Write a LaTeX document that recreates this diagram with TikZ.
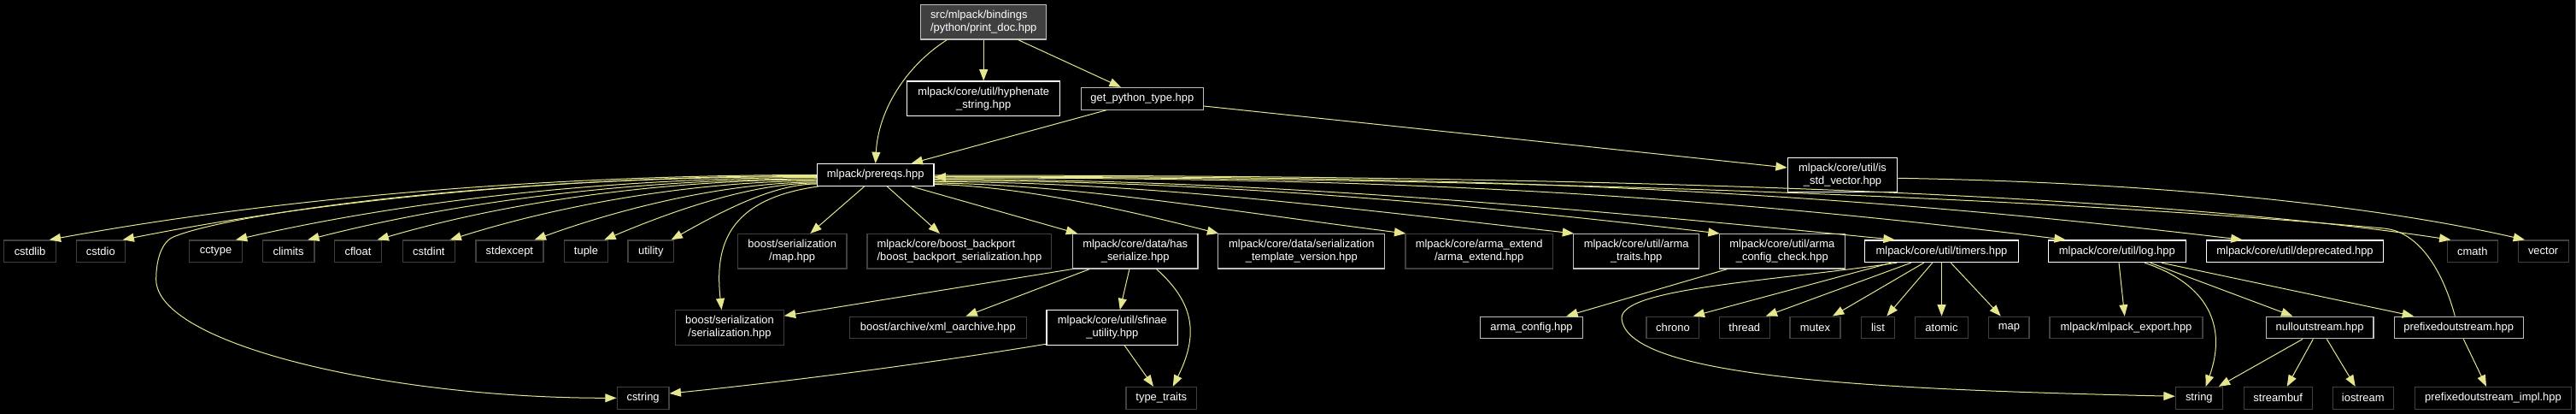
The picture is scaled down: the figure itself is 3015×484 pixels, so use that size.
\documentclass[tikz,border=0pt]{standalone}
\usepackage{fontspec}
\setmainfont{Liberation Sans}
\usetikzlibrary{arrows.meta,calc}
\definecolor{edgecol}{RGB}{230,230,140}
\definecolor{lgray}{RGB}{191,191,191}
\definecolor{dgray}{RGB}{64,64,64}
\definecolor{rootfill}{RGB}{64,64,64}
\definecolor{framegray}{RGB}{90,90,90}
\begin{document}
\begin{tikzpicture}[x=0.75pt,y=-0.75pt,
  nd/.style={draw, line width=0.9pt, fill=black, text=white, inner sep=0pt, align=center,
    font=\fontsize{9.7}{11.25}\selectfont},
  wb/.style={nd, draw=white},
  lb/.style={nd, draw=lgray},
  db/.style={nd, draw=dgray},
  sgl/.style={minimum width=#1*0.75pt, minimum height=25.7*0.75pt},
  dbl/.style={minimum width=#1*0.75pt, minimum height=40.4*0.75pt},
  conn/.style={draw=edgecol, line width=0.75pt, -{Triangle[length=10pt,width=7.5pt]}},
]
\useasboundingbox (0,0) rectangle (3015,484);
\fill[black] (0,0) rectangle (3015,484);
\draw[framegray, line width=0.6pt] (3014.4,0) -- (3014.4,484);

% row 1-3
\node[lb, fill=rootfill, dbl=147, align=left] (root) at (1151.2,25.8) {src/mlpack/bindings\\/python/print\_doc.hpp};
\node[wb, dbl=179] (hyph) at (1151.2,115.2) {mlpack/core/util/hyphenate\\\_string.hpp};
\node[lb, sgl=143] (gpt) at (1336.8,115.3) {get\_python\_type.hpp};
\node[wb, sgl=136.7] (prereqs) at (1024.7,204.5) {mlpack/prereqs.hpp};
\node[wb, dbl=128.4] (isvec) at (2156.5,204.5) {mlpack/core/util/is\\\_std\_vector.hpp};

% row 4
\node[db, sgl=60.6] (cstdlib) at (35.1,293.8) {cstdlib};
\node[db, sgl=57.2] (cstdio) at (117.8,293.8) {cstdio};
\node[db, sgl=62] (cctype) at (252.5,293.8) {cctype};
\node[db, sgl=60.6] (climits) at (337.6,293.8) {climits};
\node[db, sgl=54.8] (cfloat) at (419,293.8) {cfloat};
\node[db, sgl=61.6] (cstdint) at (501.9,293.8) {cstdint};
\node[db, sgl=79] (stdexcept) at (596.4,293.8) {stdexcept};
\node[db, sgl=50.9] (tuple) at (686,293.8) {tuple};
\node[db, sgl=53.7] (utility) at (761.8,293.8) {utility};
\node[db, dbl=127.7] (bsmap) at (927.2,293.8) {boost/serialization\\/map.hpp};
\node[db, dbl=215.8, align=left] (backport) at (1122.9,293.8) {mlpack/core/boost\_backport\\/boost\_backport\_serialization.hpp};
\node[lb, dbl=146.4] (hasser) at (1328.7,293.8) {mlpack/core/data/has\\\_serialize.hpp};
\node[lb, dbl=195] (tmplver) at (1523.3,293.8) {mlpack/core/data/serialization\\\_template\_version.hpp};
\node[db, dbl=172.6] (armaext) at (1731.2,293.8) {mlpack/core/arma\_extend\\/arma\_extend.hpp};
\node[lb, dbl=147] (armatraits) at (1915.2,293.8) {mlpack/core/util/arma\\\_traits.hpp};
\node[lb, dbl=147] (armacc) at (2085.8,293.8) {mlpack/core/util/arma\\\_config\_check.hpp};
\node[wb, sgl=179.6] (timers) at (2272.5,293.8) {mlpack/core/util/timers.hpp};
\node[wb, sgl=161] (log) at (2477.8,293.8) {mlpack/core/util/log.hpp};
\node[wb, sgl=207.3] (deprecated) at (2686,293.8) {mlpack/core/util/deprecated.hpp};
\node[db, sgl=59] (cmath) at (2893.8,293.8) {cmath};
\node[db, sgl=59] (vector) at (2976.6,293.8) {vector};

% row 5
\node[db, dbl=126.5] (sersz) at (854,383) {boost/serialization\\/serialization.hpp};
\node[db, sgl=207] (xmloa) at (1097.8,383) {boost/archive/xml\_oarchive.hpp};
\node[wb, dbl=153.7] (sfinae) at (1301.9,383) {mlpack/core/util/sfinae\\\_utility.hpp};
\node[lb, sgl=119.6] (armacfg) at (1792.5,383) {arma\_config.hpp};
\node[db, sgl=61.7] (chrono) at (1957.9,383) {chrono};
\node[db, sgl=59] (thread) at (2041.8,383) {thread};
\node[db, sgl=59] (mutex) at (2124.5,383) {mutex};
\node[db, sgl=39.4] (list) at (2198,383) {list};
\node[db, sgl=62.4] (atomic) at (2272.5,383) {atomic};
\node[db, sgl=47.3] (map) at (2351.4,383) {map};
\node[db, sgl=179] (export) at (2488.5,383) {mlpack/mlpack\_export.hpp};
\node[lb, sgl=125.6] (nullos) at (2715.1,383) {nulloutstream.hpp};
\node[lb, sgl=150.8] (prefos) at (2877.7,383) {prefixedoutstream.hpp};

% row 6
\node[db, sgl=60.8] (cstring) at (752.6,465.3) {cstring};
\node[db, sgl=82.5] (typetraits) at (1359.3,465.3) {type\_traits};
\node[db, sgl=55] (string) at (2573.8,465.3) {string};
\node[db, sgl=80] (streambuf) at (2666.2,465.3) {streambuf};
\node[db, sgl=71.2] (iostream) at (2765.7,465.3) {iostream};
\node[db, sgl=182.5] (impl) at (2918,465.3) {prefixedoutstream\_impl.hpp};

% waypoints
\coordinate (cstrbend) at (203.6,276.7);
\coordinate (cstrturn) at (182.7,326.7);
\coordinate (pfturn) at (2790,267);
\coordinate (tmturn) at (1898,372);

% root edges
\draw[conn] ($(root.south)+(-42.9,0)$) .. controls +(-50,32) and +(3,-60) .. (prereqs.north);
\draw[conn] (root.south) -- (hyph.north);
\draw[conn] ($(root.south)+(40.5,0)$) -- ($(gpt.north)+(-25,0)$);
\draw[conn] ($(gpt.south)+(-41.8,0)$) -- ($(prereqs.north)+(42,0)$);
\draw[conn] ($(gpt.east)+(0,8.7)$) -- ($(isvec.west)+(0,-8.5)$);

% prereqs left fan
\draw[conn] (prereqs.west) .. controls +(-270,0) and +(300,-55) .. ($(cstdlib.north east)+(-8.2,0)$);
\draw[conn] ($(prereqs.west)+(0,1)$) .. controls +(-244,0) and +(271,-54) .. ($(cstdio.north east)+(-3.4,0)$);
\draw[conn] ($(prereqs.west)+(0,3)$) .. controls +(-204,0) and +(227,-52) .. ($(cctype.north east)+(-8.2,0)$);
\draw[conn] ($(prereqs.west)+(0,4.5)$) .. controls +(-179,0) and +(199,-51) .. ($(climits.north east)+(-8.3,0)$);
\draw[conn] ($(prereqs.west)+(0,5.5)$) .. controls +(-155,0) and +(172,-50) .. ($(cfloat.north east)+(-5.4,0)$);
\draw[conn] ($(prereqs.west)+(0,7)$) .. controls +(-129,0) and +(143,-45) .. ($(cstdint.north east)+(-6.7,0)$);
\draw[conn] ($(prereqs.west)+(0,8.5)$) .. controls +(-99,0) and +(110,-40) .. ($(stdexcept.north east)+(-10.9,0)$);
\draw[conn] ($(prereqs.west)+(0,9.5)$) .. controls +(-75,0) and +(83,-35) .. ($(tuple.north east)+(-4.8,0)$);
\draw[conn] ($(prereqs.west)+(0,10.5)$) .. controls +(-51,0) and +(57,-32) .. ($(utility.north east)+(-3.7,0)$);
\draw[conn] ($(prereqs.west)+(0,2)$) .. controls +(-400,0) and +(60,-25) .. (cstrbend)
  .. controls +(-15,6) and +(0,-22) .. (cstrturn)
  .. controls +(0,75) and +(-270,0) .. (cstring.west);
\draw[conn] ($(prereqs.south west)+(2,0)$) .. controls +(-108,15) and +(-8,-73) .. ($(sersz.north)+(-9.5,0)$);

% prereqs downward
\draw[conn] ($(prereqs.south)+(-13,0)$) -- ($(bsmap.north)+(21.1,0)$);
\draw[conn] ($(prereqs.south)+(13.6,0)$) -- ($(backport.north)+(-22.9,0)$);
\draw[conn] ($(prereqs.south)+(42,0)$) -- ($(hasser.north west)+(6.2,0)$);

% prereqs right fan
\draw[conn] ($(prereqs.east)+(0,11)$) .. controls +(100,2) and +(-110,-28) .. ($(tmplver.north west)+(1,0)$);
\draw[conn] ($(prereqs.east)+(0,9.5)$) .. controls +(166,2) and +(-220,-28) .. ($(armaext.north west)+(1,0)$);
\draw[conn] ($(prereqs.east)+(0,8)$) .. controls +(225,0) and +(-300,-34) .. ($(armatraits.north west)+(1,0)$);
\draw[conn] ($(prereqs.east)+(0,6.5)$) .. controls +(276,0) and +(-368,-43) .. ($(armacc.north west)+(1,0)$);
\draw[conn] ($(prereqs.east)+(0,5)$) .. controls +(337,0) and +(-450,-45) .. ($(timers.north west)+(35.6,0)$);
\draw[conn] ($(prereqs.east)+(0,3.5)$) .. controls +(397,0) and +(-530,-66) .. ($(log.north west)+(21,0)$);
\draw[conn] ($(prereqs.east)+(0,2)$) .. controls +(460,0) and +(-613,-73) .. ($(deprecated.north west)+(42.7,0)$);
\draw[conn] ($(prereqs.east)+(0,0.5)$) .. controls +(533,0) and +(-444,-66.6) .. ($(cmath.north west)+(4.7,0)$);

% prefixedoutstream back to prereqs
\draw[conn] ($(prefos.north)+(-4.4,0)$) .. controls +(-12,-45) and +(45,4) .. (pfturn)
  .. controls +(-500,-45) and +(500,0) .. ($(prereqs.east)+(0,2.5)$);

% is_std_vector
\draw[conn] ($(isvec.east)+(0,3.8)$) .. controls +(300,5) and +(-180,-41) .. ($(vector.north)+(-21.6,0)$);

% has_serialize
\draw[conn] (hasser.south west) -- ($(sersz.north east)+(0,7)$);
\draw[conn] ($(hasser.south west)+(20.4,0)$) -- ($(xmloa.north)+(32.7,0)$);
\draw[conn] ($(hasser.south)+(-6.8,0)$) -- ($(sfinae.north)+(8.9,0)$);
\draw[conn] ($(hasser.south)+(24.8,0)$) .. controls +(45,40) and +(30,-60) .. ($(typetraits.north)+(13.5,0)$);

% sfinae
\draw[conn] ($(sfinae.south)+(14.2,0)$) -- ($(typetraits.north)+(-9.3,0)$);
\draw[conn] ($(sfinae.south west)+(0,-1.6)$) .. controls +(-120,20) and +(150,-15) .. ($(cstring.east)+(0,-5.3)$);

% arma_config_check
\draw[conn] ($(armacc.south)+(-64.1,0)$) -- ($(armacfg.north)+(40.8,0)$);

% timers
\draw[conn] ($(timers.south)+(-59.2,0)$) -- ($(chrono.north)+(23.8,0)$);
\draw[conn] ($(timers.south)+(-35.8,0)$) -- ($(thread.north)+(24.9,0)$);
\draw[conn] ($(timers.south)+(-20.8,0)$) -- ($(mutex.north)+(20.5,0)$);
\draw[conn] ($(timers.south)+(-10.8,0)$) -- ($(list.north)+(10.3,0)$);
\draw[conn] (timers.south) -- (atomic.north);
\draw[conn] ($(timers.south)+(10.8,0)$) -- ($(map.north)+(-9.7,0)$);
\draw[conn] ($(timers.south)+(-52.5,0)$) .. controls +(-150,22) and +(0,-35) .. (tmturn)
  .. controls +(5,70) and +(-350,-8) .. ($(string.west)+(0,-2)$);

% log
\draw[conn] ($(log.south)+(2.2,0)$) -- ($(export.north)+(-1.8,0)$);
\draw[conn] ($(log.south)+(32.2,0)$) .. controls +(75,25) and +(25,-70) .. ($(string.north)+(7.9,0)$);
\draw[conn] ($(log.south)+(38.9,0)$) -- ($(nullos.north)+(-31.8,0)$);
\draw[conn] ($(log.south)+(52.2,0)$) -- ($(prefos.north)+(-52.7,0)$);

% nulloutstream / prefixedoutstream
\draw[conn] ($(nullos.south)+(-20.1,0)$) -- ($(string.north)+(23,0)$);
\draw[conn] ($(nullos.south)+(-7.8,0)$) -- ($(streambuf.north)+(10.5,0)$);
\draw[conn] ($(nullos.south)+(8.2,0)$) -- ($(iostream.north)+(-9,0)$);
\draw[conn] ($(prefos.south)+(5.6,0)$) -- ($(impl.north)+(-8,0)$);
\end{tikzpicture}
\end{document}
